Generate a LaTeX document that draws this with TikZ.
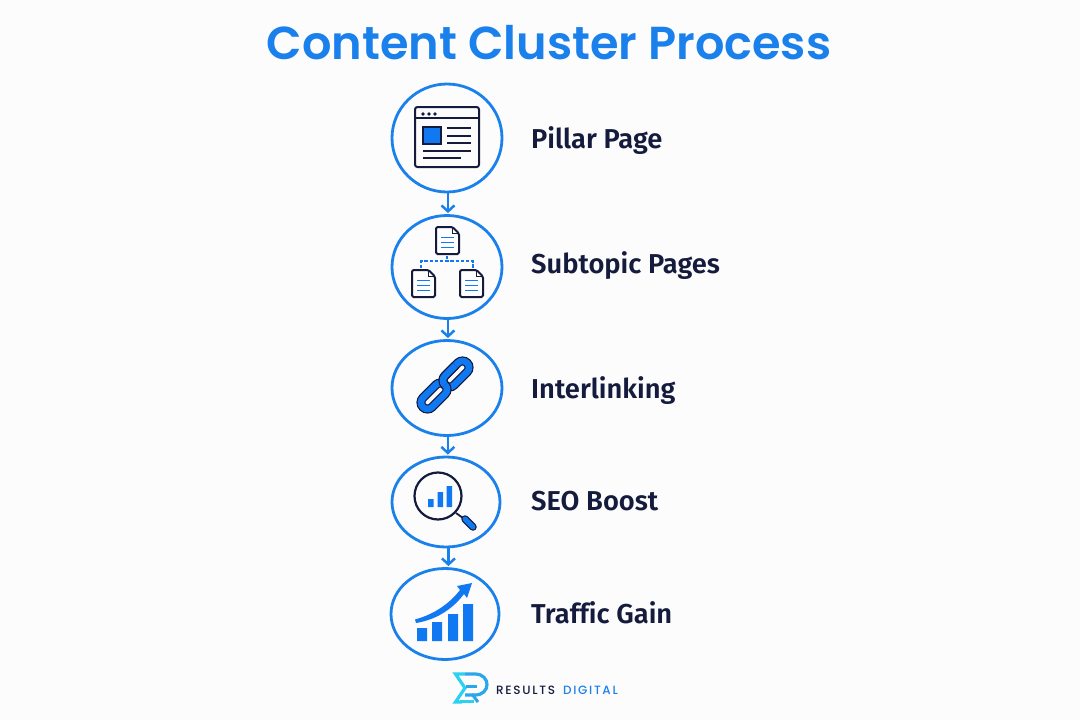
\documentclass[tikz,border=0pt]{standalone}
\usepackage{fontspec}
\usetikzlibrary{arrows.meta,shapes.geometric}
\setmainfont{Poppins}
\newfontfamily\titlefont{Poppins SemiBold}
\newfontfamily\labelfont[Ligatures=NoCommon]{Fira Sans SemiBold}
\newfontfamily\brandfont[LetterSpace=14]{Poppins Medium}
\definecolor{ringblue}{HTML}{1A80EC}
\definecolor{iconblue}{HTML}{1079F2}
\definecolor{inkdark}{HTML}{151B3D}
\definecolor{logocyan}{HTML}{2BD0F2}
\definecolor{logosky}{HTML}{2BA6EC}

\begin{document}
\begin{tikzpicture}[x=1pt,y=-1pt]

\tikzset{step ring/.style = {shape=ellipse,draw=ringblue,line width=2.8pt,inner sep=0pt}}
\tikzset{flow/.style = {draw=ringblue,line width=2.5pt,-{Straight Barb[length=6pt,width=13pt]},shorten >=1pt}}
\tikzset{steplabel/.style = {anchor=west,inner sep=0pt,text=inkdark,font=\labelfont\fontsize{27.3}{30}\selectfont}}
\tikzset{docpage/.pic = {
  \draw[inkdark,line width=2pt,rounded corners=1.5pt,fill=white] (-11.5,-13.5) -- (5,-13.5) -- (11.5,-7) -- (11.5,13.5) -- (-11.5,13.5) -- cycle;
  \draw[inkdark,line width=1.4pt] (5,-13.5) -- (5,-7) -- (11.5,-7);
  \draw[iconblue,line width=1.7pt] (-6.5,-3) -- (6.5,-3) (-6.5,2) -- (6.5,2) (-6.5,7) -- (6.5,7);
}}
\tikzset{chainlink/.pic = {
  \draw[inkdark,line width=9pt,rounded corners=6.4pt,rotate=45] (-15.7,-6.5) rectangle (15.7,6.5);
  \draw[iconblue,line width=6.6pt,rounded corners=6.4pt,rotate=45] (-15.7,-6.5) rectangle (15.7,6.5);
}}

% page
\useasboundingbox (0,0) rectangle (1080,720);
\fill[white!99!black] (0,0) rectangle (1080,720);

% title
\node[text=ringblue,font=\titlefont\fontsize{46.2}{50}\selectfont] (title) at (549,42.5) {Content Cluster Process};

% rings
\node[step ring,minimum width=110pt,minimum height=108pt] (pillar) at (447,138) {};
\node[step ring,minimum width=110pt,minimum height=103pt] (subtopic) at (447,267) {};
\node[step ring,minimum width=110pt,minimum height=95pt] (interlink) at (447,388) {};
\node[step ring,minimum width=108pt,minimum height=90pt] (seoboost) at (446,502) {};
\node[step ring,minimum width=108pt,minimum height=91pt] (traffic) at (445,614) {};

% labels
\node[steplabel] (pillarlabel) at (531,140.5) {Pillar Page};
\node[steplabel] (subtopiclabel) at (531,266) {Subtopic Pages};
\node[steplabel] (interlinklabel) at (531,391) {Interlinking};
\node[steplabel] (seolabel) at (531,501.5) {SEO Boost};
\node[steplabel] (trafficlabel) at (531,613) {Traffic Gain};

% arrows
\draw[flow] (pillar.-89) -- (pillar.-89 |- subtopic.north);
\draw[flow] (subtopic.-89) -- (subtopic.-89 |- interlink.north);
\draw[flow] (interlink.-89) -- (interlink.-89 |- seoboost.north);
\draw[flow] (seoboost.-87) -- (seoboost.-87 |- traffic.north);

% window icon
\draw[inkdark,line width=2pt,rounded corners=2.5pt] (415,107) rectangle (479,167);
\draw[inkdark,line width=1.8pt] (415,118) -- (479,118);
\fill[inkdark] (423,114) circle (1.8) (429,114) circle (1.8) (435,114) circle (1.8);
\draw[inkdark,fill=iconblue,line width=1.2pt] (423,127) rectangle (441,144);
\draw[inkdark,line width=2pt] (447,127.5) -- (471,127.5) (447,135.5) -- (471,135.5) (447,143) -- (471,143) (423,151) -- (471,151) (423,158) -- (461,158);

% document tree icon
\pic at (447.5,240.5) {docpage};
\pic at (423.5,283.5) {docpage};
\pic at (471.5,283.5) {docpage};
\draw[iconblue,line width=2pt,dash pattern=on 3.4pt off 1.8pt] (421,268) -- (421,261) -- (473,261) -- (473,268) (447,256) -- (447,261);

% chain icon
\pic at (456,374) {chainlink};
\pic at (434,396) {chainlink};
\begin{scope}
\clip (460,370) -- (430,400) -- (415,385) -- (445,355) -- cycle;
\pic at (456,374) {chainlink};
\end{scope}

% magnifier icon
\draw[inkdark,line width=2.2pt] (438,496) circle (23.5);
\fill[iconblue] (428,499) rectangle (433.5,507) (437.5,492) rectangle (443,507) (446.5,486) rectangle (452,507);
\draw[inkdark,line width=1.8pt] (456,513) -- (463,518);
\draw[inkdark,line width=7.5pt,line cap=round] (465,519) -- (473,527);
\draw[iconblue,line width=5pt,line cap=round] (465,519) -- (473,527);

% growth icon
\fill[iconblue] (417,628) rectangle (427,641) (432,622) rectangle (442,641) (448,614) rectangle (458,641) (463,604) rectangle (473,641);
\fill[iconblue] (415,619.5) .. controls (435,614) and (450,603) .. (460,590) -- (457,586) -- (472,583) -- (467,598) -- (464,594) .. controls (452,610) and (435,620) .. (416,623) -- cycle;

% logo
\draw[logosky,line width=3.2pt] (465,674) -- (475,674) .. controls (491,674) and (491,695) .. (475,695) -- (465,695);
\draw[logocyan,line width=3.2pt,line join=miter] (465,674) -- (455.5,674) -- (465,688) -- (455.5,702) -- (462,702);
\draw[logosky,line width=3pt] (466,686) -- (477,686);
\draw[logosky,line width=3pt] (472,694) -- (478,702);
\draw[logocyan,line width=2.6pt] (460,701.5) -- (474,701.5);
\node[anchor=west,inner sep=0pt,text=inkdark,font=\brandfont\fontsize{12}{13}\selectfont] (brandone) at (496,690) {RESULTS};
\node[anchor=west,inner sep=0pt,text=ringblue,font=\brandfont\fontsize{12}{13}\selectfont] (brandtwo) at (563,690) {DIGITAL};

\end{tikzpicture}
\end{document}
